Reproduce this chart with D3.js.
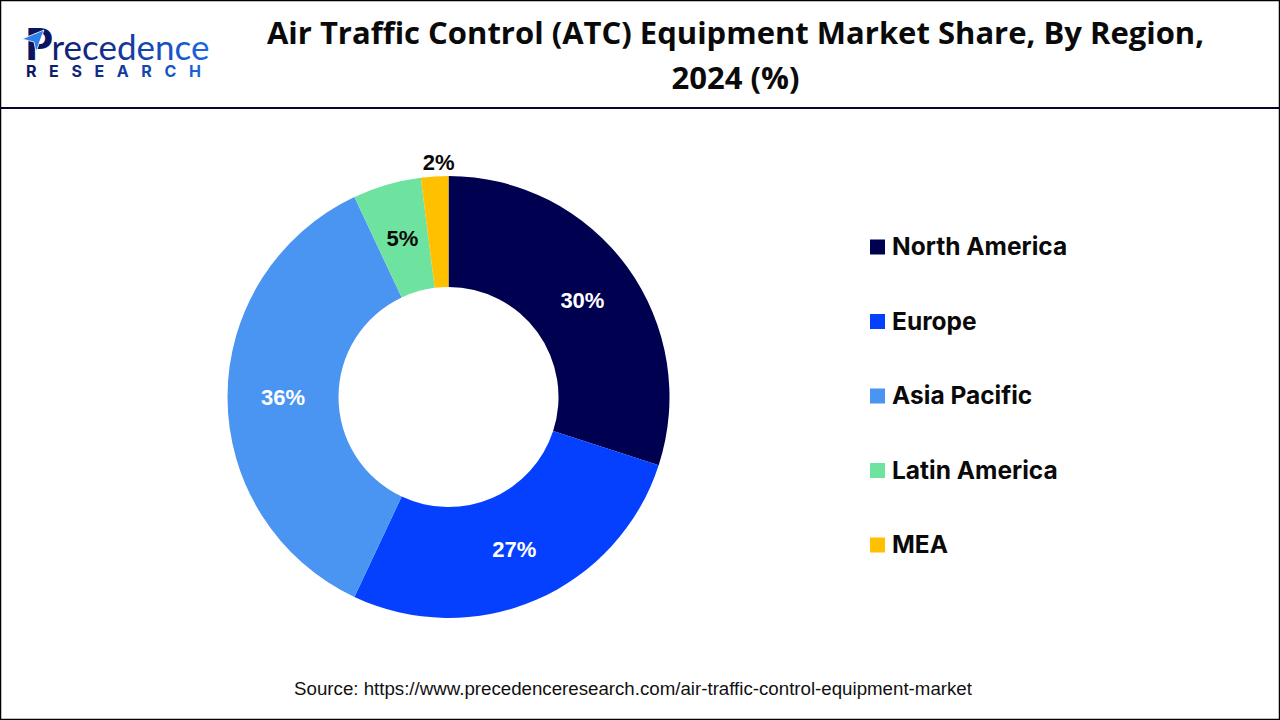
<!DOCTYPE html>
<html><head><meta charset="utf-8">
<script src="https://cdn.jsdelivr.net/npm/d3@7/dist/d3.min.js"></script>
<style>html,body{margin:0;padding:0;background:#fff}svg{display:block}</style></head>
<body><svg id="c" width="1280" height="720"></svg>
<script>
const categories=["North America","Europe","Asia Pacific","Latin America","MEA"];
const shares=[30,27,36,5,2];
const colors=["#000050","#0540FF","#4A94F2","#6EE29F","#FFC000"];
const labelColors=["#fff","#fff","#fff","#0a0a0a","#0a0a0a"];
const titleLines=["Air Traffic Control (ATC) Equipment Market Share, By Region,","2024 (%)"];
const sourceText="Source: https://www.precedenceresearch.com/air-traffic-control-equipment-market";

const svg=d3.select("#c");
const defs=svg.append("defs");
const grad=defs.append("linearGradient").attr("id","lg").attr("gradientUnits","userSpaceOnUse")
  .attr("x1",25).attr("x2",206).attr("y1",0).attr("y2",0);
grad.append("stop").attr("offset","0").attr("stop-color","#0a1560");
grad.append("stop").attr("offset","0.45").attr("stop-color","#12308f");
grad.append("stop").attr("offset","1").attr("stop-color","#1a66e0");

// frame
svg.append("rect").attr("x",0.5).attr("y",0.5).attr("width",1279).attr("height",719)
  .attr("fill","#fff").attr("stroke","#000").attr("stroke-width",1.5);
svg.append("line").attr("x1",0).attr("x2",1280).attr("y1",108).attr("y2",108)
  .attr("stroke","#050530").attr("stroke-width",2);

// logo
const logo=svg.append("g");
const word=logo.append("text").attr("x",25).attr("y",60).attr("font-family","Lato, sans-serif");
word.append("tspan").attr("font-weight",900).attr("font-size",44).attr("fill","#0a1560").text("P");
word.append("tspan").attr("dx",-1).attr("font-weight",400).attr("font-size",35)
  .attr("fill","url(#lg)").text("recedence");
logo.append("path").attr("d","M22 39 L44 30 L36 52 L34 42 Z").attr("fill","#2f7fe8").attr("stroke","#fff").attr("stroke-width",.8);
logo.append("text").attr("x",26).attr("y",77).attr("font-family","Inter, sans-serif").attr("font-weight",700)
  .attr("font-size",16).attr("letter-spacing",12.6).attr("fill","url(#lg)").text("RESEARCH");

// title
svg.append("g").selectAll("text").data(titleLines).join("text")
  .attr("x",735.5).attr("y",(d,i)=>44+i*45)
  .attr("text-anchor","middle").attr("font-family","'Open Sans', sans-serif").attr("font-weight",700)
  .attr("font-size",31).attr("fill","#0a0a0a").text(d=>d);

// donut
const cx=448.5, cy=397, rOuter=221, rInner=110;
const pie=d3.pie().sort(null)(shares);
const arc=d3.arc().innerRadius(rInner).outerRadius(rOuter);
const g=svg.append("g").attr("transform",`translate(${cx},${cy})`);
g.selectAll("path").data(pie).join("path").attr("d",arc).attr("fill",(d,i)=>colors[i]);
const outerArc=d3.arc().innerRadius(rOuter+14).outerRadius(rOuter+14);
g.selectAll("text").data(pie).join("text")
  .attr("transform",(d,i)=>`translate(${(i===4?outerArc:arc).centroid(d)})`)
  .attr("dx",(d,i)=>i===4?5:0)
  .attr("dy",(d,i)=>i<2?1:0)
  .attr("text-anchor","middle").attr("dominant-baseline","central")
  .attr("font-family","'Liberation Sans', Arial, sans-serif").attr("font-weight",700).attr("font-size",22)
  .attr("fill",(d,i)=>labelColors[i]).text(d=>d.value+"%");

// legend
const ly=d3.scalePoint().domain(categories).range([247,545]);
const leg=svg.append("g").selectAll("g").data(categories).join("g")
  .attr("transform",d=>`translate(870,${ly(d)})`);
leg.append("rect").attr("x",0).attr("y",-7.5).attr("width",15).attr("height",15).attr("fill",(d,i)=>colors[i]);
leg.append("text").attr("x",22).attr("y",-1).attr("dominant-baseline","central")
  .attr("font-family","Inter, sans-serif").attr("font-weight",700).attr("font-size",24.5).attr("fill","#0a0a0a").text(d=>d);

// source
svg.append("text").attr("x",633).attr("y",695).attr("text-anchor","middle")
  .attr("font-family","'Liberation Sans', Arial, sans-serif").attr("font-size",18.7).attr("fill","#111").text(sourceText);
</script></body></html>
